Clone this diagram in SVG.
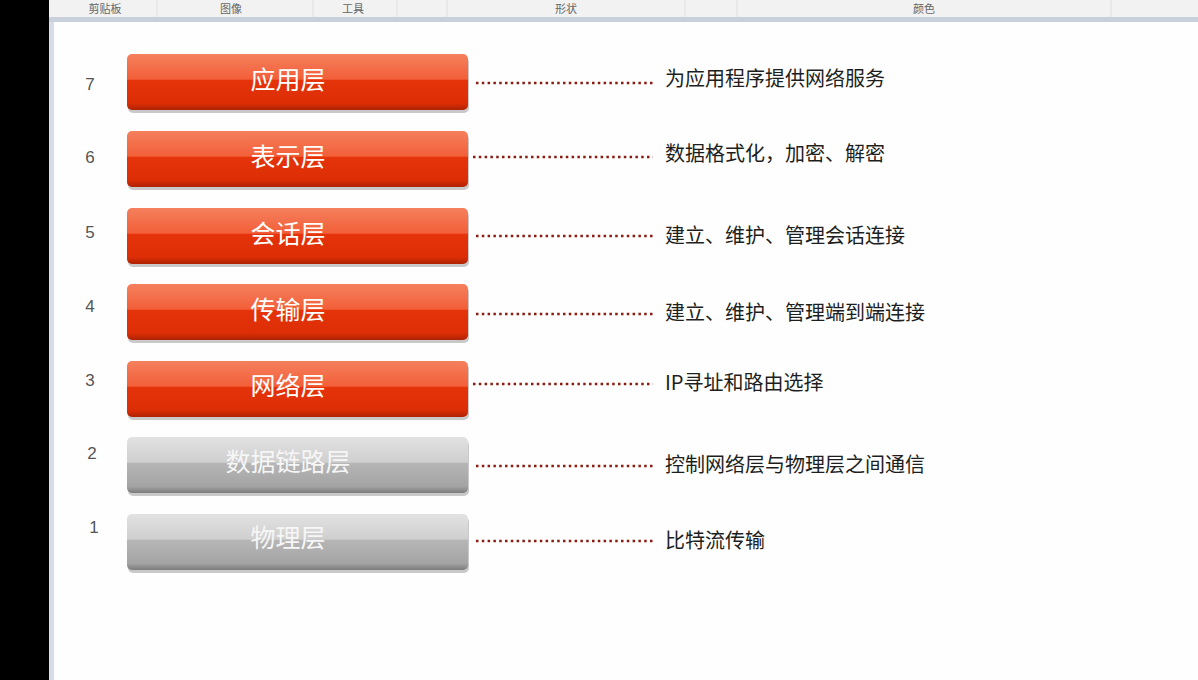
<svg xmlns="http://www.w3.org/2000/svg" width="1198" height="680" viewBox="0 0 1198 680">
<defs>
<linearGradient id="red" x1="0" y1="0" x2="0" y2="1">
<stop offset="0" stop-color="#f5805d"/>
<stop offset="0.45" stop-color="#f25f39"/>
<stop offset="0.47" stop-color="#e5330a"/>
<stop offset="0.88" stop-color="#dc2e06"/>
<stop offset="1" stop-color="#ad2203"/>
</linearGradient>
<linearGradient id="gray" x1="0" y1="0" x2="0" y2="1">
<stop offset="0" stop-color="#e2e2e2"/>
<stop offset="0.45" stop-color="#cfcfcf"/>
<stop offset="0.47" stop-color="#b6b6b6"/>
<stop offset="0.88" stop-color="#a4a4a4"/>
<stop offset="1" stop-color="#7c7c7c"/>
</linearGradient>
<style>
.cjk{font-family:"Noto Sans CJK SC","Noto Sans",sans-serif}
.bt{font-size:25px;fill:#ffffff;text-anchor:middle}
.gt{font-size:25px;fill:#f6f6f6;text-anchor:middle}
.dt{font-size:20px;fill:#1e1e1e}
.num{font-family:"Liberation Sans","Noto Sans",sans-serif;font-size:17px;fill:#555555;text-anchor:middle}
.rib{font-size:11px;fill:#666666;text-anchor:middle}
.dot{stroke:#8a1c12;stroke-width:2.5;stroke-dasharray:2.5 3.3;fill:none}
.sh{fill:#8a8a8a;opacity:0.45}
</style>
</defs>
<rect x="0" y="0" width="1198" height="680" fill="#fdfefd"/>
<rect x="0" y="0" width="49" height="680" fill="#000000"/>
<rect x="49" y="17" width="5" height="663" fill="#d6dde8"/>
<g id="ribbon">
<rect x="49" y="0" width="1149" height="17" fill="#f2f2f2"/>
<rect x="49" y="17" width="1149" height="5" fill="#c8d0dc"/>
<g stroke="#e0e0e0" stroke-width="1">
<line x1="157" y1="0" x2="157" y2="17"/>
<line x1="313" y1="0" x2="313" y2="17"/>
<line x1="397" y1="0" x2="397" y2="17"/>
<line x1="447" y1="0" x2="447" y2="17"/>
<line x1="685" y1="0" x2="685" y2="17"/>
<line x1="737" y1="0" x2="737" y2="17"/>
<line x1="1111" y1="0" x2="1111" y2="17"/>
</g>
<text class="cjk rib" x="105" y="13">剪贴板</text>
<text class="cjk rib" x="231" y="13">图像</text>
<text class="cjk rib" x="353" y="13">工具</text>
<text class="cjk rib" x="566" y="13">形状</text>
<text class="cjk rib" x="924" y="13">颜色</text>
</g>
<g id="connectors">
<line class="dot" x1="476" y1="83" x2="653" y2="83"/>
<line class="dot" x1="473" y1="157" x2="653" y2="157"/>
<line class="dot" x1="476" y1="236" x2="653" y2="236"/>
<line class="dot" x1="476" y1="314" x2="653" y2="314"/>
<line class="dot" x1="473" y1="384" x2="653" y2="384"/>
<line class="dot" x1="476" y1="466" x2="653" y2="466"/>
<line class="dot" x1="476" y1="541" x2="653" y2="541"/>
</g>
<g id="layer7">
<text class="num" x="90" y="90">7</text>
<rect class="sh" x="128" y="57" width="341" height="56" rx="5"/>
<rect x="127" y="54" width="341" height="56" rx="5" fill="url(#red)"/>
<text class="cjk bt" x="288" y="89">应用层</text>
<text class="cjk dt" x="665" y="86">为应用程序提供网络服务</text>
</g>
<g id="layer6">
<text class="num" x="90" y="163">6</text>
<rect class="sh" x="128" y="134" width="341" height="56" rx="5"/>
<rect x="127" y="131" width="341" height="56" rx="5" fill="url(#red)"/>
<text class="cjk bt" x="288" y="166">表示层</text>
<text class="cjk dt" x="665" y="161">数据格式化，加密、解密</text>
</g>
<g id="layer5">
<text class="num" x="90" y="238">5</text>
<rect class="sh" x="128" y="211" width="341" height="56" rx="5"/>
<rect x="127" y="208" width="341" height="56" rx="5" fill="url(#red)"/>
<text class="cjk bt" x="288" y="243">会话层</text>
<text class="cjk dt" x="665" y="243">建立、维护、管理会话连接</text>
</g>
<g id="layer4">
<text class="num" x="90" y="312">4</text>
<rect class="sh" x="128" y="287" width="341" height="56" rx="5"/>
<rect x="127" y="284" width="341" height="56" rx="5" fill="url(#red)"/>
<text class="cjk bt" x="288" y="319">传输层</text>
<text class="cjk dt" x="665" y="320">建立、维护、管理端到端连接</text>
</g>
<g id="layer3">
<text class="num" x="90" y="386">3</text>
<rect class="sh" x="128" y="364" width="341" height="56" rx="5"/>
<rect x="127" y="361" width="341" height="56" rx="5" fill="url(#red)"/>
<text class="cjk bt" x="288" y="395">网络层</text>
<text class="cjk dt" x="665" y="390">IP寻址和路由选择</text>
</g>
<g id="layer2">
<text class="num" x="92" y="459">2</text>
<rect class="sh" x="128" y="440" width="341" height="56" rx="5"/>
<rect x="127" y="437" width="341" height="56" rx="5" fill="url(#gray)"/>
<text class="cjk gt" x="288" y="471">数据链路层</text>
<text class="cjk dt" x="665" y="472">控制网络层与物理层之间通信</text>
</g>
<g id="layer1">
<text class="num" x="94" y="533">1</text>
<rect class="sh" x="128" y="517" width="341" height="56" rx="5"/>
<rect x="127" y="514" width="341" height="56" rx="5" fill="url(#gray)"/>
<text class="cjk gt" x="288" y="547">物理层</text>
<text class="cjk dt" x="665" y="548">比特流传输</text>
</g>
</svg>
